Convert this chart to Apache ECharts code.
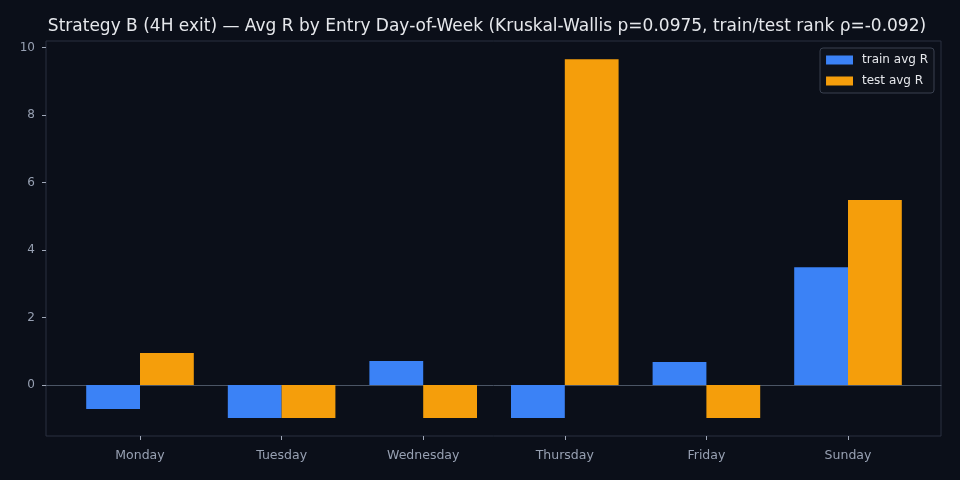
<!DOCTYPE html>
<html><head><meta charset="utf-8">
<script src="https://cdn.jsdelivr.net/npm/echarts@6/dist/echarts.min.js"></script>
<style>html,body{margin:0;padding:0;background:#0b0f19;}#c{width:960px;height:480px;}</style>
</head><body><div id="c"></div>
<script>
const categories = ['Monday','Tuesday','Wednesday','Thursday','Friday','Sunday'];
const trainAvgR = [-0.71, -0.98, 0.71, -0.98, 0.68, 3.49];
const testAvgR = [0.95, -0.98, -0.98, 9.65, -0.98, 5.48];
const yTicks = [0, 2, 4, 6, 8, 10];
const yMin = -1.51, yMax = 10.19;

const txt = '#97a0b2';
const chart = echarts.init(document.getElementById('c'));
chart.setOption({
  backgroundColor: '#0b0f19',
  animation: false,
  textStyle: {fontFamily: 'DejaVu Sans'},
  title: {
    text: 'Strategy B (4H exit) — Avg R by Entry Day-of-Week (Kruskal-Wallis p=0.0975, train/test rank ρ=-0.092)',
    left: 482, top: 13, textAlign: 'center',
    textStyle: {color: '#e6e8ec', fontSize: 17, fontWeight: 'normal', fontFamily: 'DejaVu Sans'}
  },
  legend: {
    orient: 'vertical', right: 26, top: 48,
    itemWidth: 27, itemHeight: 9, itemGap: 9,
    padding: [6, 6, 6, 6],
    icon: 'rect',
    borderColor: '#3a4150', borderWidth: 1, borderRadius: 3,
    backgroundColor: '#0e121b',
    textStyle: {color: '#e6e8ec', fontSize: 12, fontFamily: 'DejaVu Sans', padding: [0, 0, 0, 4]},
    data: ['train avg R', 'test avg R']
  },
  grid: [
    {left: 46, right: 19, top: 41, bottom: 44, show: true, borderColor: '#2a3140', borderWidth: 1, backgroundColor: 'transparent'},
    {left: 69.2, right: 41.2, top: 41, bottom: 44}
  ],
  xAxis: [
    {type: 'value', gridIndex: 0, min: 0, max: 1, axisLine: {show: true, onZero: true, lineStyle: {color: '#4b5565', width: 1}},
     axisTick: {show: false}, axisLabel: {show: false}, splitLine: {show: false}},
    {type: 'category', gridIndex: 1, data: categories, position: 'bottom',
     axisLine: {show: false, onZero: false}, axisTick: {show: true, alignWithLabel: true, length: 4, lineStyle: {color: '#a0a8b8'}},
     axisLabel: {color: txt, fontSize: 12.5, margin: 13}, splitLine: {show: false}}
  ],
  yAxis: [
    {type: 'value', gridIndex: 0, min: yMin, max: yMax,
     axisLine: {show: false},
     axisTick: {show: true, length: 4, customValues: yTicks, lineStyle: {color: '#a0a8b8'}},
     axisLabel: {color: txt, fontSize: 12, margin: 11, customValues: yTicks}, splitLine: {show: false}},
    {type: 'value', gridIndex: 1, min: yMin, max: yMax, show: false, splitLine: {show: false}}
  ],
  series: [
    {name: 'train avg R', type: 'bar', xAxisIndex: 1, yAxisIndex: 1, data: trainAvgR,
     barWidth: 53.8, barGap: '0%', itemStyle: {color: '#3b82f6'}},
    {name: 'test avg R', type: 'bar', xAxisIndex: 1, yAxisIndex: 1, data: testAvgR,
     barWidth: 53.8, barGap: '0%', itemStyle: {color: '#f59e0b'}}
  ]
});
</script></body></html>
